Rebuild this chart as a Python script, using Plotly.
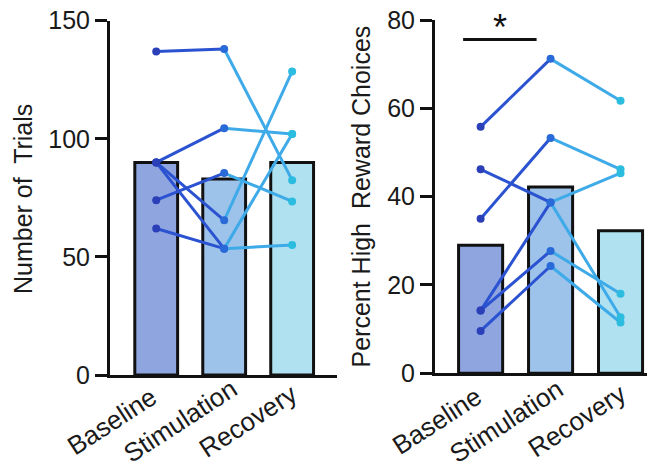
import plotly.graph_objects as go

conditions = ["Baseline", "Stimulation", "Recovery"]
xpos = [0, 1, 2]

# Number of trials (left panel)
trials_means = [90, 83, 90]
trials_baseline = [137, 90, 74, 90, 90, 62]
trials_stim = [138, 104.5, 85.5, 65.5, 53.5, 53.5]
trials_recovery = [82.5, 102, 73.5, 128.5, 102, 55]
trials_ticks = [0, 50, 100, 150]

# Percent high reward choices (right panel)
hr_means = [29, 42.2, 32.3]
hr_baseline = [55.8, 35, 46.2, 14.2, 14.2, 9.6]
hr_stim = [71.2, 53.3, 38.7, 38.7, 27.7, 24.3]
hr_recovery = [61.7, 46.2, 12.7, 45.3, 18, 11.5]
hr_ticks = [0, 20, 40, 60, 80]

bar_colors = ["#8fa5e0", "#9dc3ea", "#b0e1f0"]
seg1_color = "#2b52d0"
seg2_color = "#3eaae8"
dot_colors = ["#2b3fb8", "#2a6ad8", "#2cbce0"]

FONT = "Liberation Sans, Arial, sans-serif"

fig = go.Figure()

def add_panel(means, b, s, r, xa, ya):
    fig.add_trace(go.Bar(x=xpos, y=means, width=0.63,
                         marker=dict(color=bar_colors, line=dict(color="#111111", width=3)),
                         xaxis=xa, yaxis=ya, showlegend=False, hoverinfo="skip"))
    for i in range(len(b)):
        fig.add_trace(go.Scatter(x=[0, 1], y=[b[i], s[i]], mode="lines",
                                 line=dict(color=seg1_color, width=3),
                                 xaxis=xa, yaxis=ya, showlegend=False))
        fig.add_trace(go.Scatter(x=[1, 2], y=[s[i], r[i]], mode="lines",
                                 line=dict(color=seg2_color, width=3),
                                 xaxis=xa, yaxis=ya, showlegend=False))
    for k, vals in enumerate([b, s, r]):
        fig.add_trace(go.Scatter(x=[xpos[k]] * len(vals), y=vals, mode="markers",
                                 marker=dict(color=dot_colors[k], size=8),
                                 xaxis=xa, yaxis=ya, showlegend=False))

add_panel(trials_means, trials_baseline, trials_stim, trials_recovery, "x", "y")
add_panel(hr_means, hr_baseline, hr_stim, hr_recovery, "x2", "y2")

W, H = 655, 468
OFF = 8  # page body margin offset


def px(x):
    return (x - OFF) / W


def py(y):
    return 1 - (y - OFF) / H


xcommon = dict(showgrid=False, zeroline=False, showline=True, linecolor="#111111", linewidth=3,
               ticks="", tickvals=xpos, showticklabels=False, automargin=False)
ycommon = dict(showgrid=False, zeroline=False, showline=True, linecolor="#111111", linewidth=3,
               ticks="outside", ticklen=12, tickwidth=2.5, tickcolor="#111111", automargin=False,
               ticklabeloverflow="allow",
               tickfont=dict(family=FONT, size=25, color="#1a1a1a"))

fig.update_layout(
    width=W, height=H,
    margin=dict(l=0, r=0, t=0, b=0, pad=0, autoexpand=False),
    plot_bgcolor="white", paper_bgcolor="white",
    xaxis=dict(domain=[px(110), px(337)], range=[-0.68, 2.66], anchor="y", **xcommon),
    yaxis=dict(domain=[py(375), py(20.7)], range=[0, 150], tickvals=trials_ticks,
               anchor="x", **ycommon),
    xaxis2=dict(domain=[px(435), px(655 + OFF)], range=[-0.652, 2.607], anchor="y2", **xcommon),
    yaxis2=dict(domain=[py(373.3), py(20)], range=[0, 80], tickvals=hr_ticks,
                anchor="x2", **ycommon),
)

# rotated category labels
for xa in ["x", "x2"]:
    for xv, lab in zip(xpos, conditions):
        fig.add_annotation(text=lab, xref=xa, yref="paper", x=xv, y=py(421),
                           xshift=-44, textangle=-33, showarrow=False,
                           xanchor="center", yanchor="middle",
                           font=dict(family=FONT, size=26, color="#1a1a1a"))

fig.add_annotation(text="Number of  Trials", xref="paper", yref="paper",
                   x=px(23), y=py(199), textangle=-90, showarrow=False,
                   font=dict(family=FONT, size=25, color="#1a1a1a"),
                   xanchor="center", yanchor="middle")
fig.add_annotation(text="Percent High  Reward Choices", xref="paper", yref="paper",
                   x=px(360), y=py(196.5), textangle=-90, showarrow=False,
                   font=dict(family=FONT, size=25, color="#1a1a1a"),
                   xanchor="center", yanchor="middle")

# significance bar
fig.add_shape(type="line", xref="x2", yref="y2", x0=-0.25, x1=0.8, y0=75.6, y1=75.6,
              line=dict(color="#111111", width=3))
fig.add_annotation(text="*", xref="x2", yref="paper", x=0.27, y=py(28),
                   showarrow=False, font=dict(family=FONT, size=36, color="#111111"),
                   xanchor="center", yanchor="middle")

fig.write_html("out.html")
